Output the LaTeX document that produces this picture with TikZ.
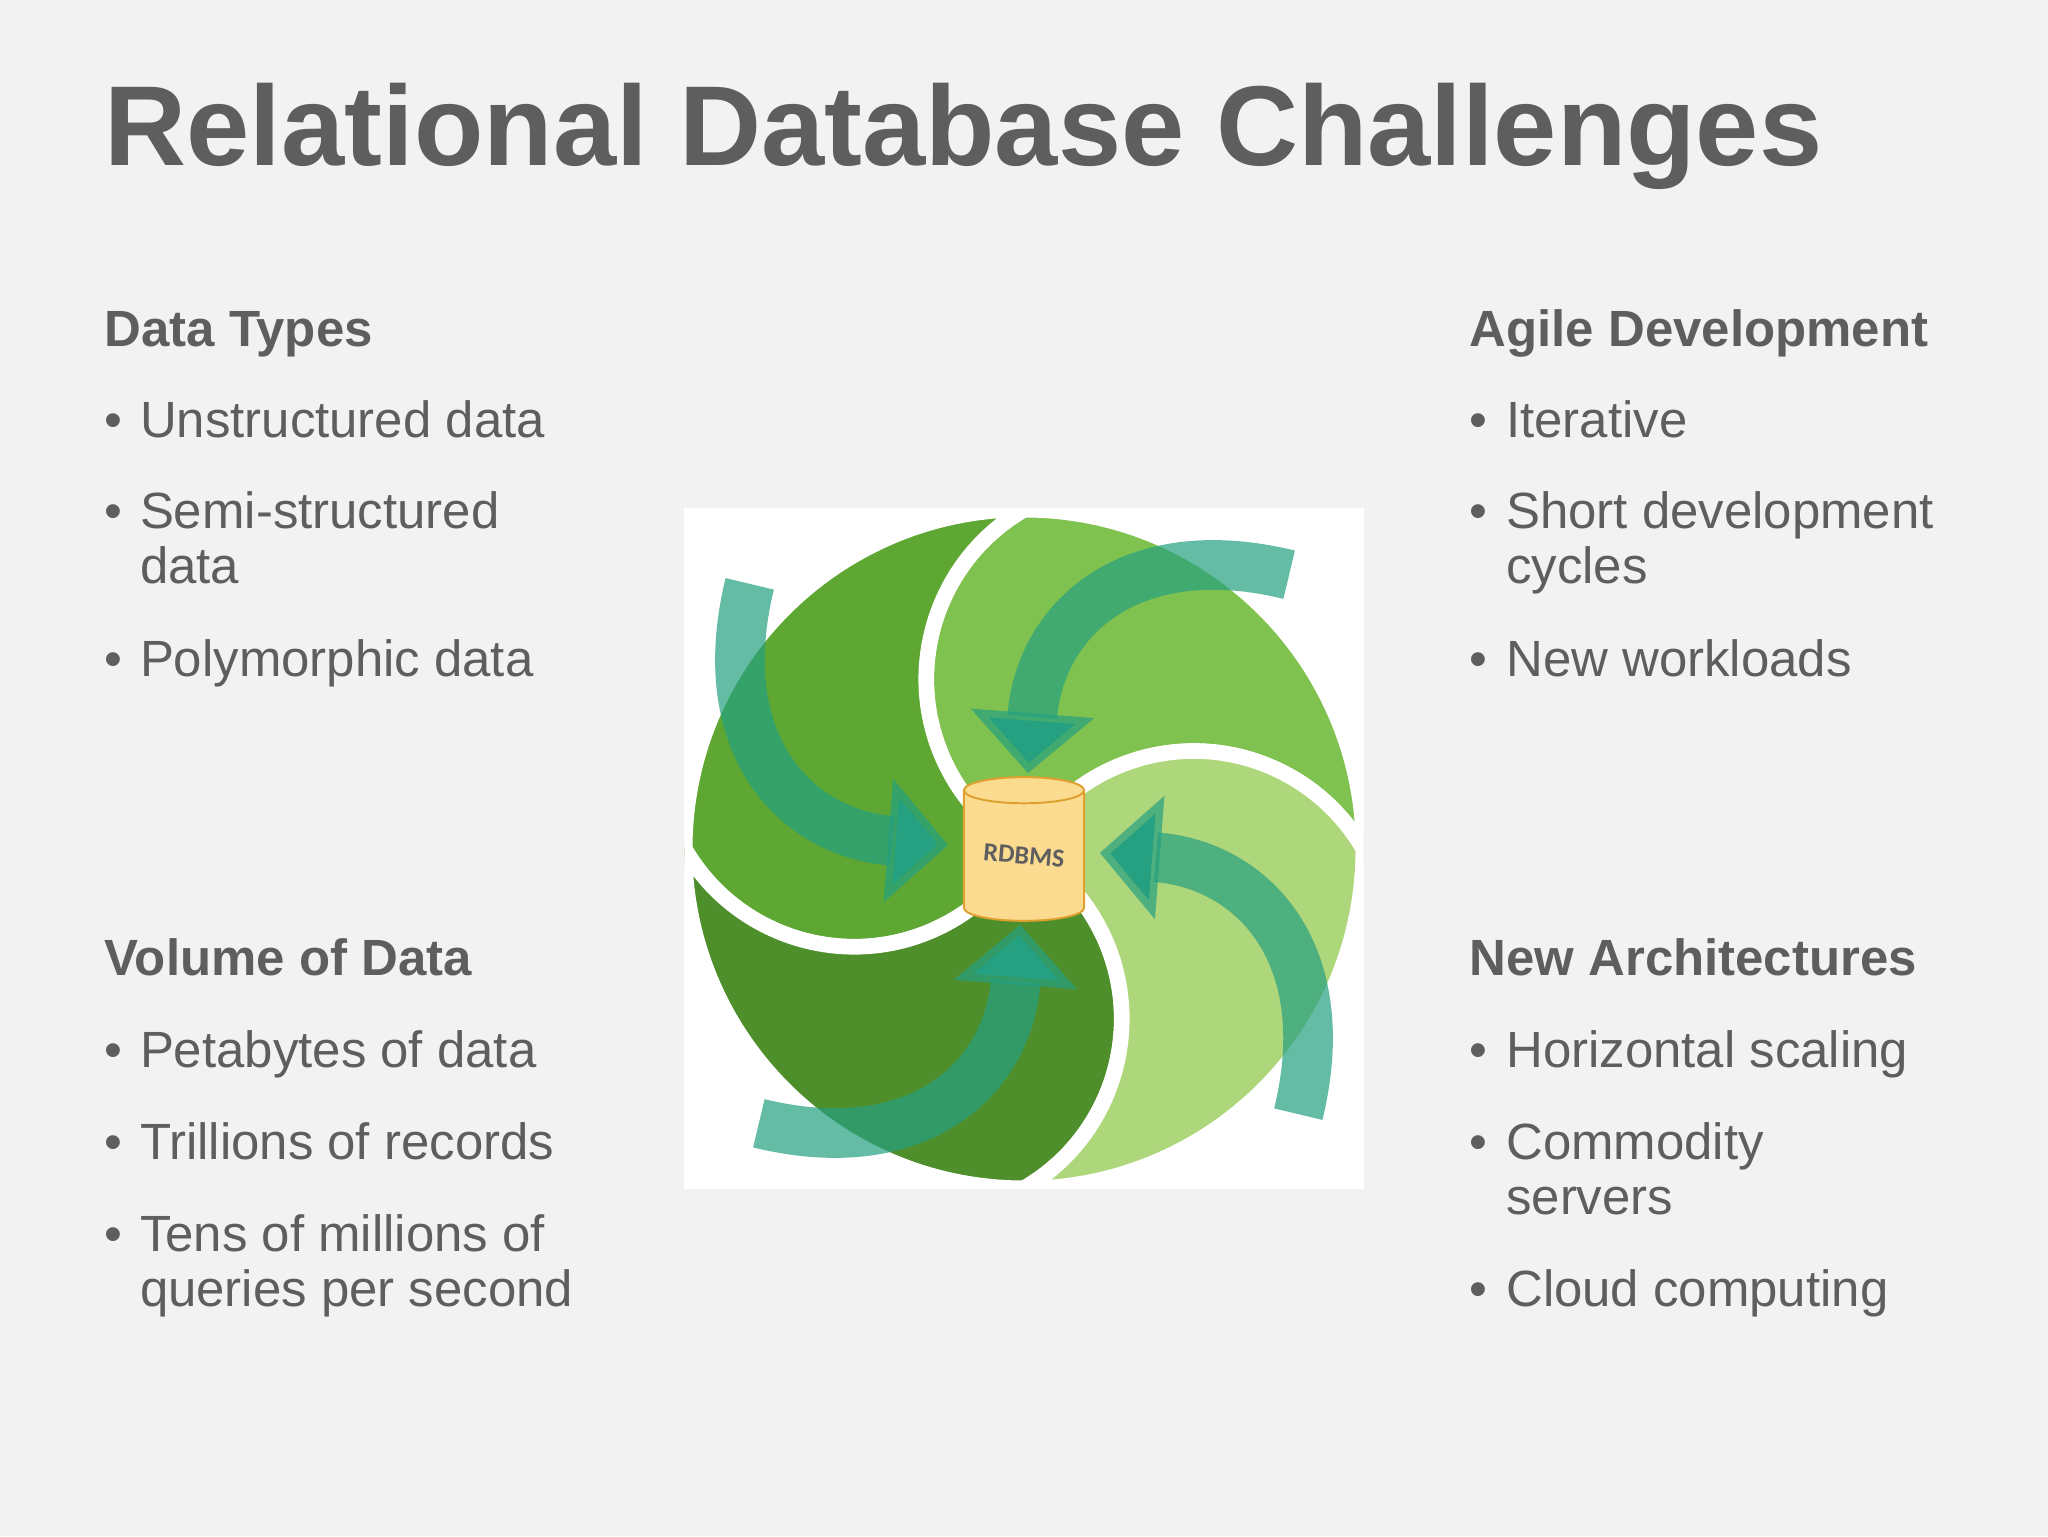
\documentclass[tikz,border=0pt]{standalone}
\usepackage{fontspec}
\setmainfont{Liberation Sans}
\newfontfamily\carl{Carlito}
\usetikzlibrary{arrows.meta}
\definecolor{bg}{HTML}{F2F2F2}
\definecolor{txt}{HTML}{5E5E5E}
\definecolor{leafA}{HTML}{80C24F}
\definecolor{leafB}{HTML}{5EA733}
\definecolor{leafC}{HTML}{4F8F2B}
\definecolor{leafD}{HTML}{AED67A}
\definecolor{teal}{HTML}{25A080}
\definecolor{cylf}{HTML}{FADB90}
\definecolor{cyld}{HTML}{E0A030}
\tikzset{
 ttl/.style={anchor=base west,inner sep=0,text=txt,font=\fontsize{87}{95}\selectfont\bfseries},
 hd/.style={anchor=base west,inner sep=0,text=txt,font=\fontsize{39}{42}\selectfont\bfseries},
 it/.style={anchor=base west,inner sep=0,text=txt,font=\fontsize{39}{42}\selectfont},
 leaf/.style={draw=white,line width=12pt},
 arr/.style={draw=teal,draw opacity=0.7,line width=38pt,-{Triangle[width=92pt,length=46pt]}}
}
\begin{document}
\begin{tikzpicture}[x=1pt,y=1pt]
\fill[bg] (0,0) rectangle (1568,-1176);
\useasboundingbox (0,0) rectangle (1568,-1176);
\node[ttl] (title) at (80,-127) {Relational Database Challenges};
% left column
\node[hd] (h1) at (80,-265) {Data Types};
\node[it] (b1) at (80,-335) {•}; \node[it] (t1) at (107,-335) {Unstructured data};
\node[it] (b2) at (80,-405) {•}; \node[it] (t2) at (107,-405) {Semi-structured};
\node[it] (t2b) at (107,-447) {data};
\node[it] (b3) at (80,-518) {•}; \node[it] (t3) at (107,-518) {Polymorphic data};
\node[hd] (h2) at (80,-747) {Volume of Data};
\node[it] (b4) at (80,-817) {•}; \node[it] (t4) at (107,-817) {Petabytes of data};
\node[it] (b5) at (80,-888) {•}; \node[it] (t5) at (107,-888) {Trillions of records};
\node[it] (b6) at (80,-958) {•}; \node[it] (t6) at (107,-958) {Tens of millions of};
\node[it] (t6b) at (107,-1000) {queries per second};
% right column
\node[hd] (h3) at (1125,-265) {Agile Development};
\node[it] (b7) at (1125,-335) {•}; \node[it] (t7) at (1153,-335) {Iterative};
\node[it] (b8) at (1125,-405) {•}; \node[it] (t8) at (1153,-405) {Short development};
\node[it] (t8b) at (1153,-447) {cycles};
\node[it] (b9) at (1125,-518) {•}; \node[it] (t9) at (1153,-518) {New workloads};
\node[hd] (h4) at (1125,-747) {New Architectures};
\node[it] (b10) at (1125,-817) {•}; \node[it] (t10) at (1153,-817) {Horizontal scaling};
\node[it] (b11) at (1125,-888) {•}; \node[it] (t11) at (1153,-888) {Commodity};
\node[it] (t11b) at (1153,-930) {servers};
\node[it] (b12) at (1125,-1000) {•}; \node[it] (t12) at (1153,-1000) {Cloud computing};
% swirl
\fill[white] (524,-389) rectangle (1044,-910);
\begin{scope}
\clip (524,-389) rectangle (1044,-910);
\begin{scope}[shift={(784,-650)}]
\foreach \r/\c in {0/leafA,90/leafB,180/leafC,270/leafD}{
 \begin{scope}[rotate=\r]
 \filldraw[leaf,fill=\c] (0,0) arc[start angle=240,end angle=120,radius=150]
   arc[start angle=90,end angle=0,radius=260]
   arc[start angle=30,end angle=150,radius=150] -- cycle;
 \end{scope}}
\foreach \r in {0,90,180,270}{
 \begin{scope}[rotate=\r]
 \draw[arr] (203,210) .. controls (80,240) and (12,175) .. (3,58);
 \end{scope}}
\end{scope}
\end{scope}
\begin{scope}[shift={(784,-650)}]
\fill[cylf,draw=cyld,line width=1.5pt] (-46,45) -- (-46,-45) arc[start angle=180,end angle=360,x radius=46,y radius=10] -- (46,45) arc[start angle=0,end angle=180,x radius=46,y radius=10] -- cycle;
\draw[cyld,line width=1.5pt] (-46,45) arc[start angle=180,end angle=360,x radius=46,y radius=10];
\node[text=txt,font=\carl\fontsize{20}{22}\selectfont\bfseries,rotate=-5] (rdbms) at (0,-5) {RDBMS};
\end{scope}
\end{tikzpicture}
\end{document}
